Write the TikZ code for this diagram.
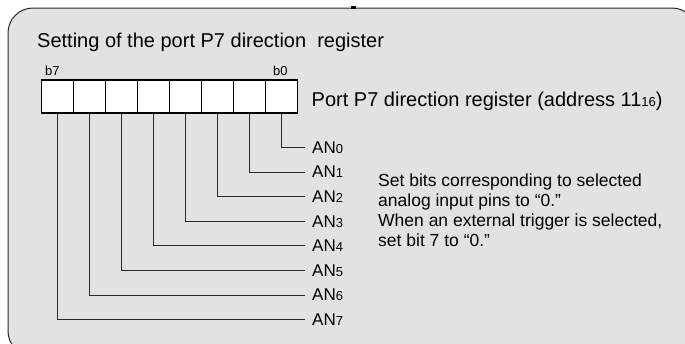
\documentclass[tikz,border=0pt]{standalone}
\usepackage{fontspec}
\setmainfont{Liberation Sans}
\definecolor{framegray}{RGB}{226,226,226}
\definecolor{linegray}{RGB}{40,40,40}
\newcommand{\smalldig}[1]{{\fontsize{13}{13}\selectfont #1}}
\tikzset{
  cellbox/.style={draw=black, fill=white, line width=1.2pt, minimum width=32pt, minimum height=33pt, inner sep=0pt, outer sep=0pt},
  anlabel/.style={anchor=west, inner sep=0pt, font=\fontsize{17}{17}\selectfont},
  conn/.style={draw=linegray, line width=0.9pt},
  bigtext/.style={inner sep=0pt, font=\fontsize{20}{24}\selectfont},
}
\begin{document}
\begin{tikzpicture}[x=1pt,y=-1pt]
\clip (0,0) rectangle (685,343);
\fill[white] (0,0) rectangle (685,343);
\draw[fill=framegray, draw=linegray, line width=1pt, rounded corners=25pt] (8,8) rectangle (697,356);
\fill[black] (351,6) rectangle (356,8.5);
\node[bigtext, anchor=base west] (title) at (37,47) {Setting of the port P7 direction \ register};
\node[inner sep=0pt, anchor=base west, font=\fontsize{13}{13}\selectfont] (b7) at (45,75) {b7};
\node[inner sep=0pt, anchor=base west, font=\fontsize{13}{13}\selectfont] (b0) at (273,75) {b0};
\foreach \i in {0,...,7} {
  \pgfmathsetmacro{\cx}{281.7-32*\i}
  \node[cellbox] (c\i) at (\cx,96.5) {};
}
\node[bigtext, anchor=base west] (reg) at (311.5,106.5) {Port P7 direction register (address 11\smalldig{16})};
\foreach \i in {0,...,7} {
  \pgfmathsetmacro{\ly}{147.5+24.6*\i}
  \node[anlabel] (a\i) at (312,\ly) {AN\smalldig{\i}};
  \draw[conn] (c\i.south) |- ([xshift=-7pt]a\i.west);
}
\node[inner sep=0pt, anchor=north west, align=left, font=\fontsize{17.5}{20}\selectfont] (note) at (378,173.7)
  {Set bits corresponding to selected\\analog input pins to “0.”\\When an external trigger is selected,\\set bit 7 to “0.”};
\end{tikzpicture}
\end{document}
